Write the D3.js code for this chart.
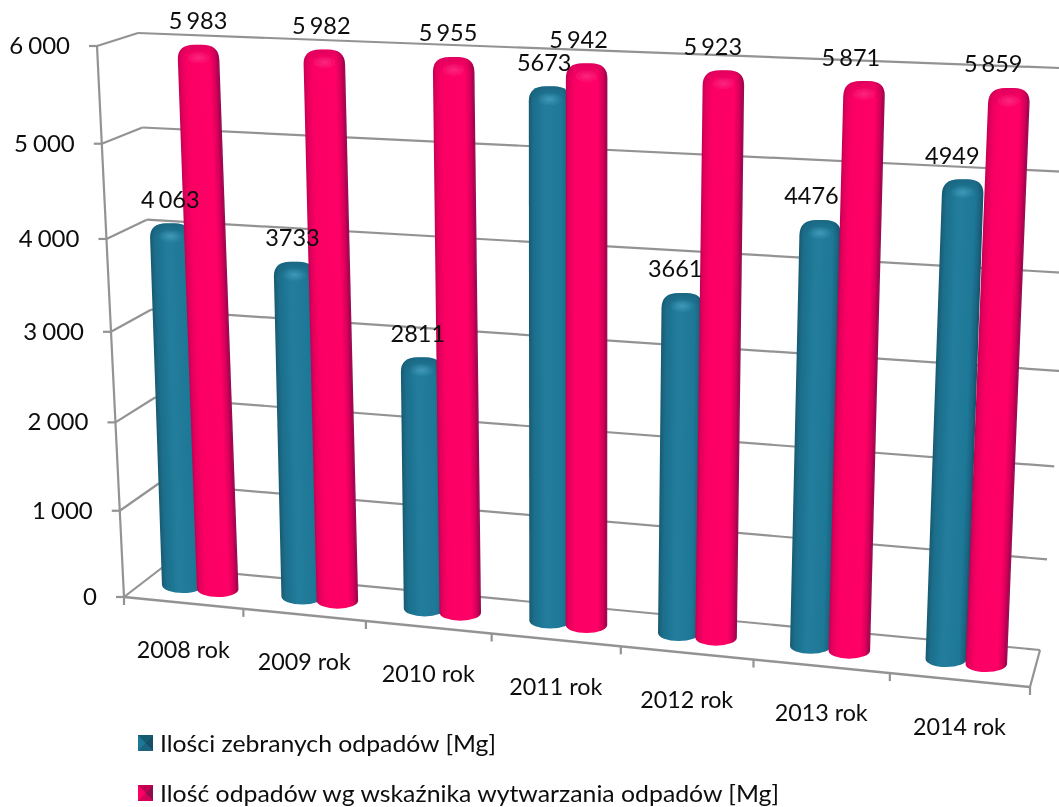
<!DOCTYPE html>
<html><head><meta charset="utf-8">
<script src="https://cdn.jsdelivr.net/npm/d3@7"></script>
<style>html,body{margin:0;padding:0;background:#fff}svg{display:block}text{font-family:Lato,"Noto Sans",sans-serif;fill:#0c0c0c}</style>
</head><body><svg id="c" width="1059" height="807"></svg>
<script>
const categories=["2008 rok","2009 rok","2010 rok","2011 rok","2012 rok","2013 rok","2014 rok"];
const collected=[4063,3733,2811,5673,3661,4476,4949];
const generated=[5983,5982,5955,5942,5923,5871,5859];
const collectedLabels=["4 063","3733","2811","5673","3661","4476","4949"];
const generatedLabels=["5 983","5 982","5 955","5 942","5 923","5 871","5 859"];
const yTicks=[0,1000,2000,3000,4000,5000,6000];
const yTickLabels=["0","1 000","2 000","3 000","4 000","5 000","6 000"];
const seriesNames=["Ilości zebranych odpadów [Mg]","Ilość odpadów wg wskaźnika wytwarzania odpadów [Mg]"];

function quad(bl,br,tr,tl){
  const [x0,y0]=bl,[x1,y1]=br,[x2,y2]=tr,[x3,y3]=tl;
  const dx1=x1-x2,dx2=x3-x2,sx=x0-x1+x2-x3,dy1=y1-y2,dy2=y3-y2,sy=y0-y1+y2-y3;
  const den=dx1*dy2-dx2*dy1,g=(sx*dy2-dx2*sy)/den,h=(dx1*sy-sx*dy1)/den;
  const a=x1-x0+g*x1,b=x3-x0+h*x3,d=y1-y0+g*y1,e=y3-y0+h*y3;
  return (u,v)=>{const w=g*u+h*v+1;return [(a*u+b*v+x0)/w,(d*u+e*v+y0)/w];};
}
const back=quad([163,567],[1040,650],[1085,69],[138,33]);
const front=quad([124,597],[1030,687],[1078,85],[97,46]);
const pinkPlane=quad([218,597],[986,672],[1010,73],[198,43]);
const tealPlane=quad([183,593],[946,667],[967,70],[164,38]);

const band=d3.scaleBand().domain(categories).range([0,1]);
const point=d3.scalePoint().domain(categories).range([0,1]);
const y=d3.scaleLinear().domain([0,6000]).range([0,1]);

const svg=d3.select("#c");
const defs=svg.append("defs");
const f=defs.append("filter").attr("id","soft").attr("x","-5%").attr("y","-5%").attr("width","110%").attr("height","110%");
f.append("feGaussianBlur").attr("stdDeviation",0.6);
function grad(id,stops,attrs){
  const g=defs.append("linearGradient").attr("id",id);
  Object.entries(attrs||{}).forEach(([k,v])=>g.attr(k,v));
  stops.forEach(s=>g.append("stop").attr("offset",s[0]).attr("stop-color",s[1]).attr("stop-opacity",s[2]==null?1:s[2]));
}
grad("bodyP",[[0,"#c20052"],[.07,"#e2005c"],[.22,"#fb0064"],[.76,"#ff0066"],[.9,"#d40058"],[1,"#8f0a4e"]]);
grad("bodyT",[[0,"#185a72"],[.12,"#1d6f8c"],[.4,"#217c9c"],[.8,"#1f7897"],[.93,"#1a6380"],[1,"#154f66"]]);
grad("capP",[[0,"#7a0040",.22],[.5,"#a00048",.08],[1,"#ff0066",0]],{x1:0,y1:0,x2:0,y2:1});
grad("capT",[[0,"#0c4458",.35],[.5,"#0f5068",.12],[1,"#217c9c",0]],{x1:0,y1:0,x2:0,y2:1});
const rg=(id,c,o)=>{const g=defs.append("radialGradient").attr("id",id);
  g.append("stop").attr("offset",0).attr("stop-color",c).attr("stop-opacity",o);
  g.append("stop").attr("offset",1).attr("stop-color",c).attr("stop-opacity",0);};
rg("hiP","#ff4c9a",.5);rg("hiT","#58b4d0",.55);

const root=svg.append("g").attr("filter","url(#soft)");
const gridCol="#939393";
const seg=(g,a,b,w)=>g.append("line").attr("x1",a[0]).attr("y1",a[1]).attr("x2",b[0]).attr("y2",b[1]).attr("stroke",gridCol).attr("stroke-width",w||2.2);

// walls and axes
const wall=root.append("g");
yTicks.forEach(t=>{
  const v=y(t);
  seg(wall,back(0,v),back(1,v));
  seg(wall,front(0,v),back(0,v));
  const p=front(0,v);
  seg(wall,[p[0]-8,p[1]],p);
});
seg(wall,front(0,0),front(0,1));
seg(wall,front(0,0),front(1,0),2.6);
seg(wall,front(1,0),back(1,0));
categories.concat([null]).forEach((c,i)=>{
  const u=c?band(c):1, p=front(u,0);
  seg(wall,p,[p[0],p[1]+8]);
});

// tick labels
root.append("g").selectAll("text").data(yTicks).join("text")
  .attr("x",t=>front(0,y(t))[0]-27).attr("y",t=>front(0,y(t))[1]+8)
  .attr("text-anchor","end").attr("font-size",24).attr("word-spacing",-1)
  .text((t,i)=>yTickLabels[i]);
root.append("g").selectAll("text").data(categories).join("text")
  .attr("x",c=>front(band(c)+band.bandwidth()/2,0)[0])
  .attr("y",c=>front(band(c)+band.bandwidth()/2,0)[1]+55)
  .attr("text-anchor","middle").attr("font-size",23)
  .attr("textLength",93).attr("lengthAdjust","spacingAndGlyphs")
  .text(c=>c);

// cylinders
const W=41.5,rx=17,ry=15,bry=8;
function cyl(g,plane,cat,val,kind){
  const u=point(cat),t=plane(u,y(val)),b=plane(u,0),h=b[1]-t[1],k=(b[0]-t[0])/h,hw=W/2;
  const n=g.append("g").attr("transform",`matrix(1,0,${k},1,${b[0]},${b[1]})`);
  const top=-h;
  const head=`M${-hw},${top+ry} Q${-hw},${top} ${-hw+rx},${top} L${hw-rx},${top} Q${hw},${top} ${hw},${top+ry}`;
  n.append("path").attr("fill",`url(#body${kind})`)
   .attr("d",`${head} L${hw},${-bry} A${hw},${bry} 0 0 1 ${-hw},${-bry} Z`);
  n.append("path").attr("fill",`url(#cap${kind})`)
   .attr("d",`${head} L${hw},${top+22} L${-hw},${top+22} Z`);
  n.append("ellipse").attr("cx",0).attr("cy",top+13).attr("rx",13).attr("ry",7).attr("fill",`url(#hi${kind})`);
}
const bars=root.append("g");
categories.forEach((c,i)=>{
  cyl(bars,tealPlane,c,collected[i],"T");
  cyl(bars,pinkPlane,c,generated[i],"P");
});

// value labels
const labels=root.append("g").attr("font-size",23.5);
function valueLabel(plane,vals,strs,drift){
  labels.append("g").selectAll("text").data(categories).join("text")
    .attr("x",(c,i)=>plane(point(c),y(vals[i]))[0]-drift*i)
    .attr("y",(c,i)=>plane(point(c),y(vals[i]))[1]-15.5)
    .attr("text-anchor","middle").attr("word-spacing",-2)
    .text((c,i)=>strs[i]);
}
valueLabel(tealPlane,collected,collectedLabels,1.8);
valueLabel(pinkPlane,generated,generatedLabels,2.7);

// legend
const leg=root.append("g");
seriesNames.forEach((s,i)=>{
  const yy=743+i*50;
  const sw=leg.append("g").attr("transform",`translate(138,${yy-8})`);
  sw.append("rect").attr("width",15).attr("height",16).attr("fill",i?"#ff0066":"#1f7897");
  sw.append("path").attr("d","M15,0L15,16L7.5,8Z").attr("fill",i?"#8f0a4e":"#154f66");
  sw.append("path").attr("d","M0,0L15,0L7.5,8Z").attr("fill",i?"#c20052":"#185a72");
  sw.append("path").attr("d","M0,16L15,16L7.5,8Z").attr("fill",i?"#d40058":"#1a6380");
  leg.append("text").attr("x",160).attr("y",yy+9).attr("font-size",23)
    .attr("textLength",i?619:336).attr("lengthAdjust","spacingAndGlyphs").text(s);
});
</script></body></html>
